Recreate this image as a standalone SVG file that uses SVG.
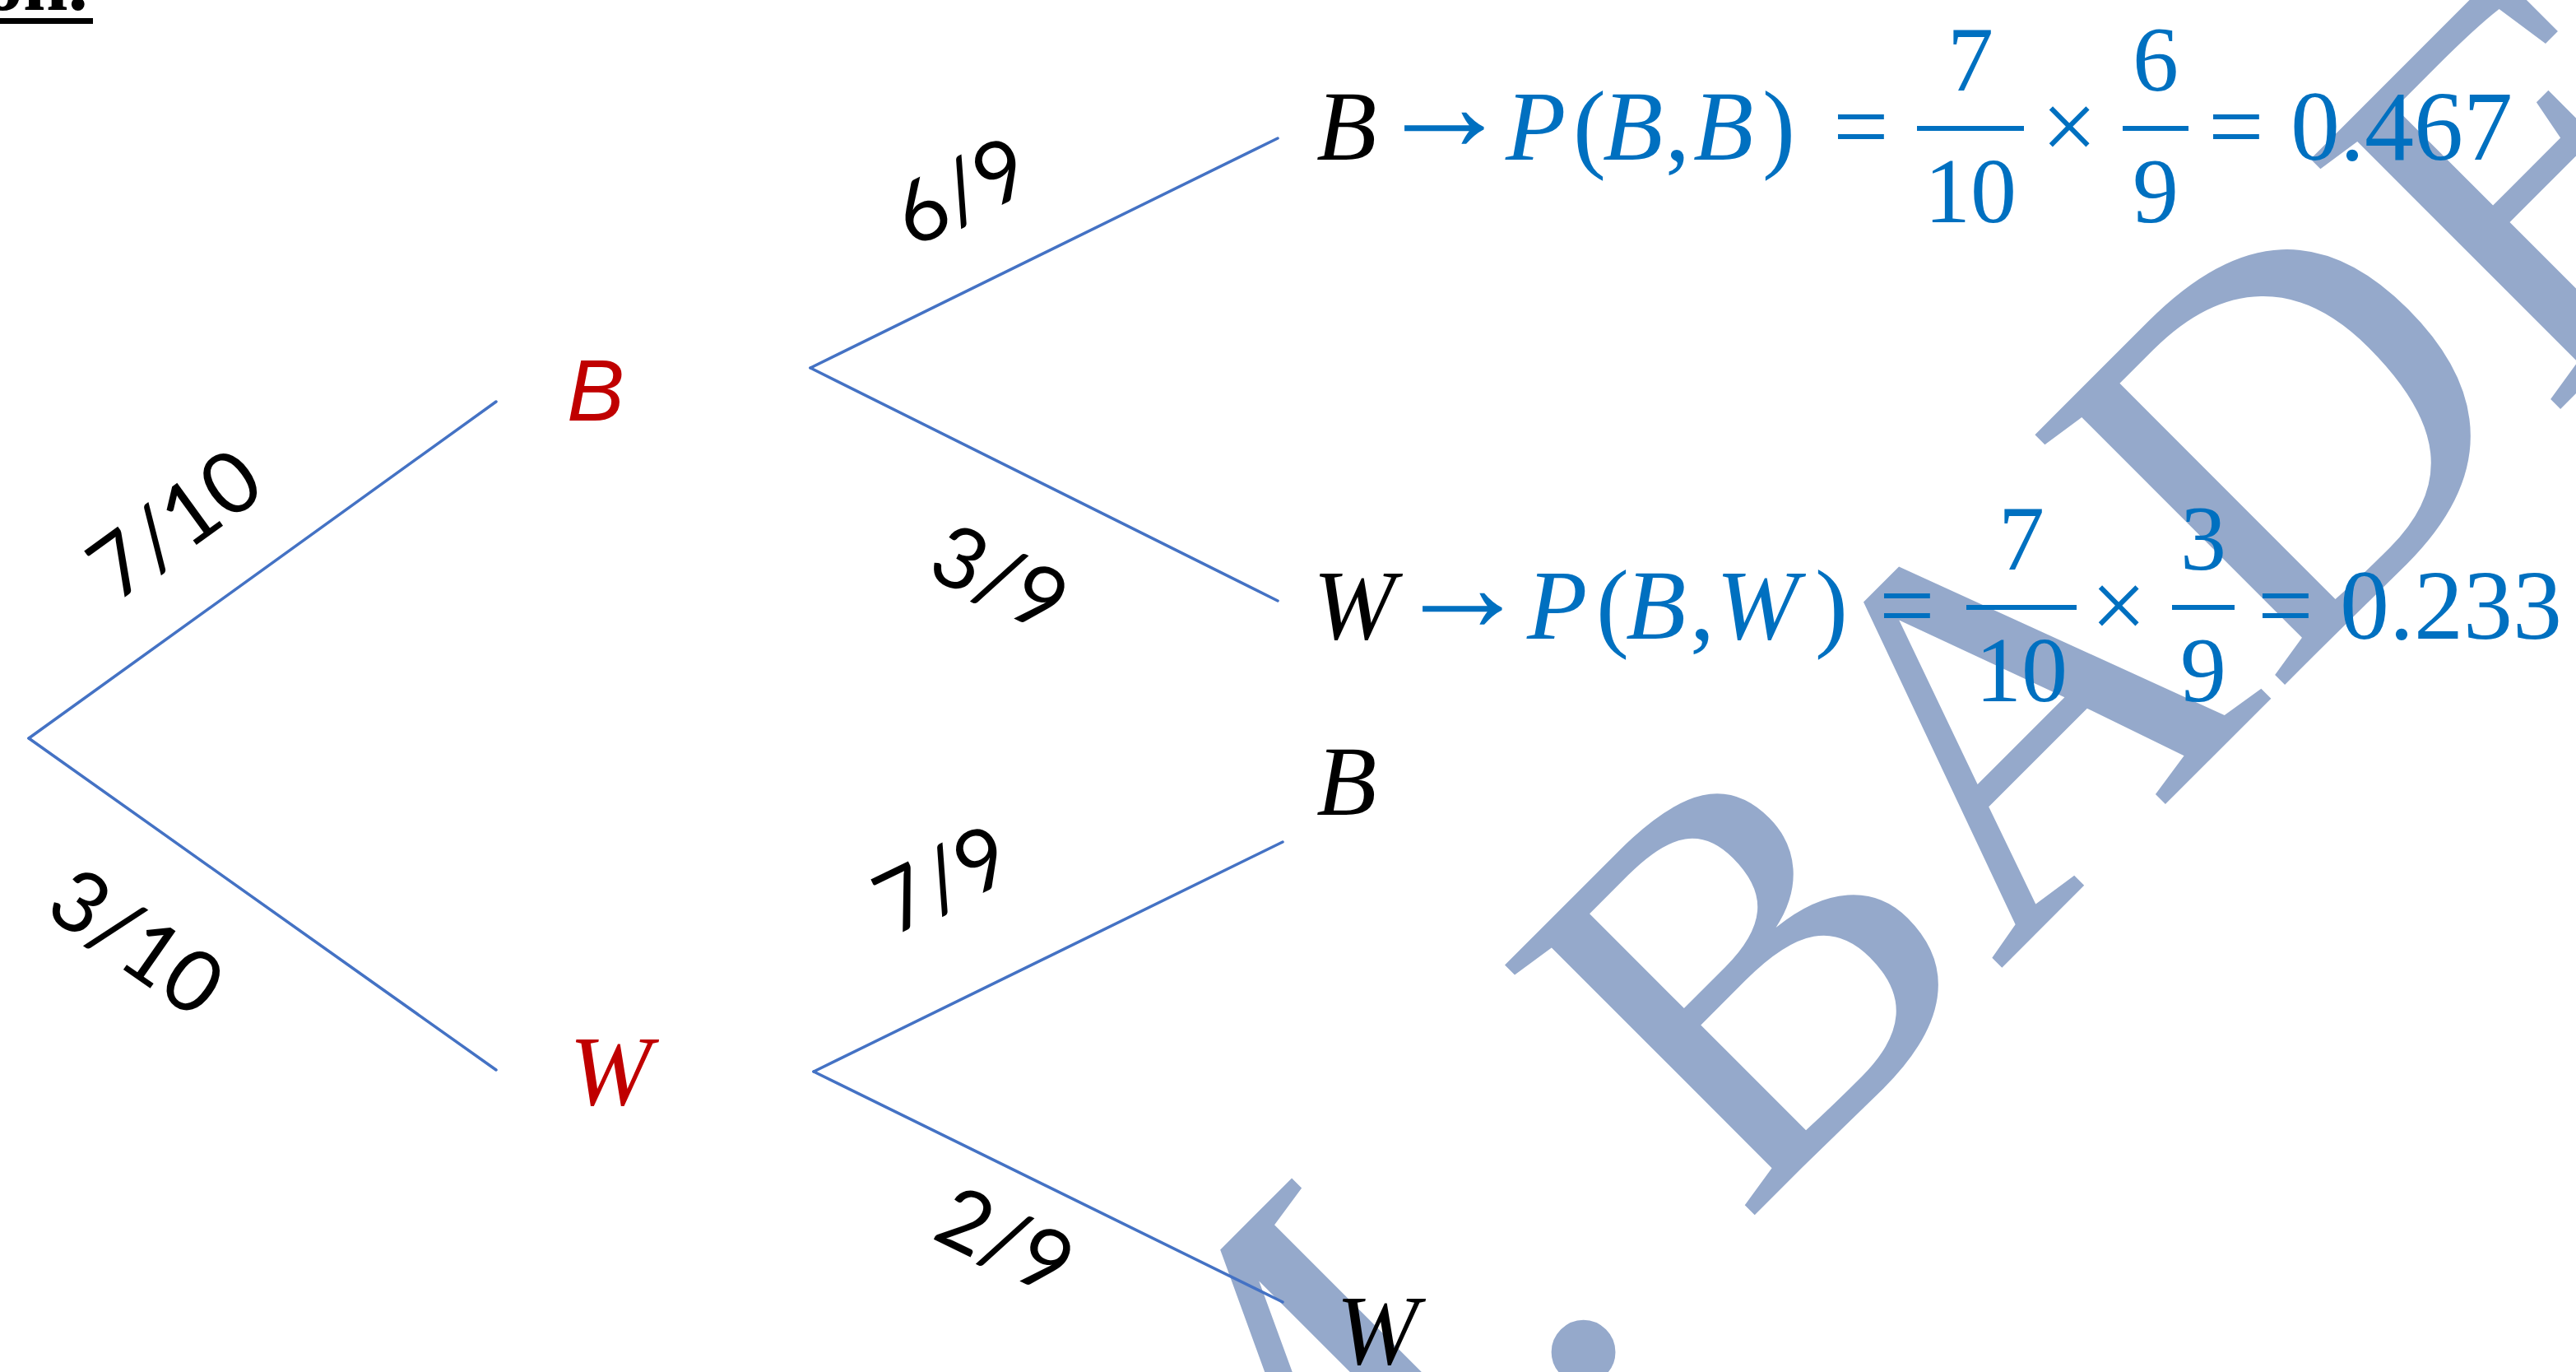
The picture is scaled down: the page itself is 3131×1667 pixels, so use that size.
<svg xmlns="http://www.w3.org/2000/svg" width="3131" height="1667" viewBox="0 0 3131 1667">
<style>
.bg{fill:#ffffff}
.wm{font-family:"Liberation Serif",serif;font-size:656px;fill:#95A9CB}
.edge{stroke:#4472C4;stroke-width:3.5;fill:none;stroke-linecap:round}
.lbl{font-family:Lato,"Liberation Sans",sans-serif;font-size:104px;fill:#000000;text-anchor:middle}
.m{font-family:"Liberation Serif",serif;font-size:120px}
.it{font-style:italic}
.blk{fill:#000000}
.blue{fill:#0070C0}
.red{fill:#C00000}
.num{font-family:"Liberation Serif",serif;font-size:112px;fill:#0070C0;text-anchor:middle}
.arr{font-family:"Liberation Serif",serif;font-size:163px;fill:#0070C0}
.bar{stroke:#0070C0;stroke-width:6}
.head{font-family:"Liberation Serif",serif;font-weight:bold;font-size:98px;fill:#000000;text-anchor:end}
</style>
<rect class="bg" x="0" y="0" width="3131" height="1667"/>
<g id="watermark">
<text class="wm" transform="translate(1475,2134) rotate(-45)" x="0" y="0">M. BADER</text>
</g>
<g id="heading">
<text class="head" x="107" y="12">on.</text>
<rect x="0" y="22" width="113" height="7" fill="#000000"/>
</g>
<g id="connectors">
<line class="edge" x1="35" y1="897" x2="603" y2="488"/>
<line class="edge" x1="35" y1="897" x2="603" y2="1300"/>
<line class="edge" x1="985" y1="447" x2="1553" y2="168"/>
<line class="edge" x1="985" y1="447" x2="1553" y2="730"/>
<line class="edge" x1="989" y1="1302" x2="1559" y2="1023"/>
<line class="edge" x1="989" y1="1302" x2="1559" y2="1582"/>
<text class="lbl" transform="translate(212,636) rotate(-36)" x="0" y="37">7/10</text>
<text class="lbl" transform="translate(166,1144) rotate(35)" x="0" y="37">3/10</text>
<text class="lbl" transform="translate(1168,232) rotate(-26)" x="0" y="37">6/9</text>
<text class="lbl" transform="translate(1215,702) rotate(26)" x="0" y="37">3/9</text>
<text class="lbl" transform="translate(1145,1068) rotate(-26)" x="0" y="37">7/9</text>
<text class="lbl" transform="translate(1222,1507) rotate(26)" x="0" y="37">2/9</text>
</g>
<g id="node-B1">
<text font-family="'Liberation Sans',sans-serif" font-size="105" font-style="italic" class="red" x="689" y="511">B</text>
</g>
<g id="node-W1">
<text class="m it red" x="692" y="1342">W</text>
</g>
<g id="node-BB">
<text class="m it blk" x="1600" y="194">B</text>
<text class="arr" x="1674" y="183">→</text>
<text class="m blue" y="194"><tspan class="it" x="1830">P</tspan><tspan x="1912">(</tspan><tspan class="it" x="1948">B</tspan><tspan x="2024">,</tspan><tspan class="it" x="2058">B</tspan><tspan x="2142">)</tspan></text>
<text class="m blue" x="2228" y="194">=</text>
<line class="bar" x1="2330" y1="156" x2="2460" y2="156"/>
<text class="num" x="2395" y="110">7</text>
<text class="num" x="2395" y="270">10</text>
<text class="m blue" x="2515" y="194" text-anchor="middle">×</text>
<line class="bar" x1="2580" y1="156" x2="2660" y2="156"/>
<text class="num" x="2620" y="110">6</text>
<text class="num" x="2620" y="270">9</text>
<text class="m blue" x="2684" y="194">=</text>
<text class="m blue" x="2784" y="194">0.467</text>
</g>
<g id="node-BW">
<text class="m it blk" x="1596" y="776">W</text>
<text class="arr" x="1696" y="767">→</text>
<text class="m blue" y="776"><tspan class="it" x="1856">P</tspan><tspan x="1940">(</tspan><tspan class="it" x="1976">B</tspan><tspan x="2054">,</tspan><tspan class="it" x="2086">W</tspan><tspan x="2206">)</tspan></text>
<text class="m blue" x="2284" y="776">=</text>
<line class="bar" x1="2390" y1="738" x2="2524" y2="738"/>
<text class="num" x="2457" y="692">7</text>
<text class="num" x="2457" y="852">10</text>
<text class="m blue" x="2575" y="776" text-anchor="middle">×</text>
<line class="bar" x1="2640" y1="738" x2="2716" y2="738"/>
<text class="num" x="2678" y="692">3</text>
<text class="num" x="2678" y="852">9</text>
<text class="m blue" x="2744" y="776">=</text>
<text class="m blue" x="2844" y="776">0.233</text>
</g>
<g id="node-WB">
<text class="m it blk" x="1600" y="990">B</text>
</g>
<g id="node-WW">
<text class="m it blk" x="1624" y="1657">W</text>
</g>
</svg>
